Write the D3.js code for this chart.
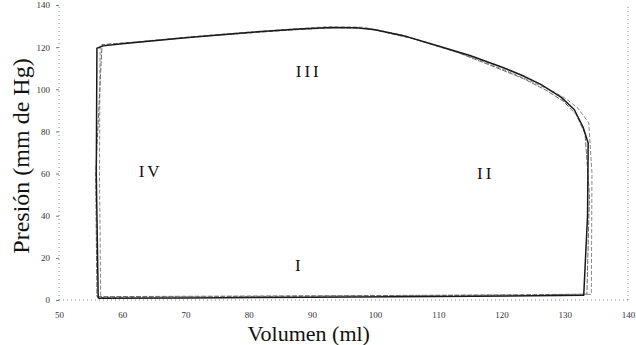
<!DOCTYPE html>
<html>
<head>
<meta charset="utf-8">
<script src="https://cdn.jsdelivr.net/npm/d3@7"></script>
<style>
  body { margin: 0; background: #fff; }
  text { font-family: "Liberation Serif", "DejaVu Serif", serif; }
</style>
</head>
<body>
<div id="chart"></div>
<script>
const WIDTH = 636;
const HEIGHT = 345;
const MARGIN = {top: 5, right: 8, bottom: 45, left: 59};

const X_TICKS = [50, 60, 70, 80, 90, 100, 110, 120, 130, 140];
const Y_TICKS = [0, 20, 40, 60, 80, 100, 120, 140];

// each loop: volume (ml) / pressure (mm Hg), going I -> II -> III -> IV
const loopA_vol = [56.2, 70, 90, 110, 125, 133.0, 133.6, 133.7, 132.9, 131.5, 129.4, 126.2, 123.1, 120, 115, 110, 105, 100, 97, 93, 88, 80, 70, 60, 57, 56.0, 55.9, 56.2];
const loopA_prs = [0.8, 1.0, 1.3, 1.7, 2.0, 2.3, 40, 74.5, 82, 90.4, 96.3, 102.3, 106.8, 110.6, 116, 120.5, 125, 128.3, 129.2, 129.3, 128.6, 127, 124.4, 121.6, 120.6, 119.5, 60, 0.8];

const loopB_vol = [56.6, 70, 90, 110, 125, 134.2, 134.3, 133.8, 132.1, 130.2, 128.3, 125, 121, 116, 110, 104, 98, 92, 85, 75, 65, 58, 56.5, 56.4, 56.6];
const loopB_prs = [1.2, 1.5, 1.8, 2.1, 2.4, 2.7, 60, 84, 91, 95.5, 98.7, 103.3, 108.5, 114.5, 120.5, 126, 129.5, 129.6, 128.2, 126, 123.3, 121.4, 121, 60, 1.2];

const loopC_vol = [56.0, 75, 100, 125, 133.5, 133.9, 133.2, 131.8, 129.8, 127, 123.5, 119, 113, 106, 99, 94, 86, 72, 62, 56.8, 55.8, 56.0];
const loopC_prs = [1.6, 1.8, 2.1, 2.5, 2.8, 50, 79, 88, 94.3, 99.6, 105, 110.5, 117.5, 124, 128.8, 129.3, 128, 125, 122.3, 121.2, 60, 1.6];

const LABELS = ['I', 'II', 'III', 'IV'];
const LABEL_VOL = [88, 117.5, 89.5, 64.5];
const LABEL_PRS = [14, 57.5, 106, 58.5];

const LOOPS = [
  {vol: loopB_vol, prs: loopB_prs, color: '#8a8a8a', width: 1, dash: '4,2'},
  {vol: loopC_vol, prs: loopC_prs, color: '#6a6a6a', width: 1, dash: '5,1.5'},
  {vol: loopA_vol, prs: loopA_prs, color: '#1a1a1a', width: 1.5, dash: null},
];

const svg = d3.select('#chart')
  .append('svg')
  .attr('width', WIDTH)
  .attr('height', HEIGHT);

svg.append('rect')
  .attr('width', WIDTH)
  .attr('height', HEIGHT)
  .attr('fill', '#fff');

const x = d3.scaleLinear()
  .domain([50, 140])
  .range([MARGIN.left, WIDTH - MARGIN.right]);

const y = d3.scaleLinear()
  .domain([0, 140])
  .range([HEIGHT - MARGIN.bottom, MARGIN.top]);

// dotted frame
const frame = svg.append('g')
  .attr('stroke', '#888')
  .attr('stroke-width', 1)
  .attr('stroke-dasharray', '1,3')
  .attr('fill', 'none');

frame.append('line')
  .attr('x1', x(50)).attr('x2', x(50))
  .attr('y1', y(0)).attr('y2', y(140));
frame.append('line')
  .attr('x1', x(140)).attr('x2', x(140))
  .attr('y1', y(0)).attr('y2', y(140));
frame.append('line')
  .attr('x1', x(50)).attr('x2', x(140))
  .attr('y1', y(0)).attr('y2', y(0));

const yAxis = d3.axisLeft(y)
  .tickValues(Y_TICKS)
  .tickSize(3)
  .tickPadding(6);

svg.append('g')
  .attr('class', 'y-axis')
  .attr('transform', 'translate(' + x(50) + ',0)')
  .call(yAxis)
  .call(g => g.select('.domain').remove())
  .call(g => g.selectAll('.tick line').attr('stroke', '#777'))
  .call(g => g.selectAll('text')
    .attr('font-size', 9)
    .attr('fill', '#333')
    .style('font-family', '"Liberation Serif", serif'));

const xAxis = d3.axisBottom(x)
  .tickValues(X_TICKS)
  .tickSize(0)
  .tickPadding(12);

svg.append('g')
  .attr('class', 'x-axis')
  .attr('transform', 'translate(0,' + y(0) + ')')
  .call(xAxis)
  .call(g => g.select('.domain').remove())
  .call(g => g.selectAll('text')
    .attr('font-size', 9)
    .attr('fill', '#333')
    .style('font-family', '"Liberation Serif", serif'));

const line = d3.line()
  .x(d => x(d[0]))
  .y(d => y(d[1]))
  .curve(d3.curveLinear);

for (const lp of LOOPS) {
  const pts = lp.vol.map((v, i) => [v, lp.prs[i]]);
  svg.append('path')
    .datum(pts)
    .attr('fill', 'none')
    .attr('stroke', lp.color)
    .attr('stroke-width', lp.width)
    .attr('stroke-dasharray', lp.dash)
    .attr('stroke-linejoin', 'round')
    .attr('d', line);
}

svg.selectAll('.phase')
  .data(LABELS)
  .enter()
  .append('text')
  .attr('class', 'phase')
  .attr('x', (d, i) => x(LABEL_VOL[i]))
  .attr('y', (d, i) => y(LABEL_PRS[i]))
  .attr('text-anchor', 'middle')
  .attr('font-size', 17)
  .attr('letter-spacing', 3)
  .attr('fill', '#111')
  .text(d => d);

svg.append('text')
  .attr('transform', 'translate(29,156) rotate(-90)')
  .attr('text-anchor', 'middle')
  .attr('font-size', 24)
  .attr('fill', '#111')
  .text('Presión (mm de Hg)');

svg.append('text')
  .attr('x', x(89.5))
  .attr('y', 341)
  .attr('text-anchor', 'middle')
  .attr('font-size', 22)
  .attr('fill', '#111')
  .text('Volumen (ml)');
</script>
</body>
</html>
